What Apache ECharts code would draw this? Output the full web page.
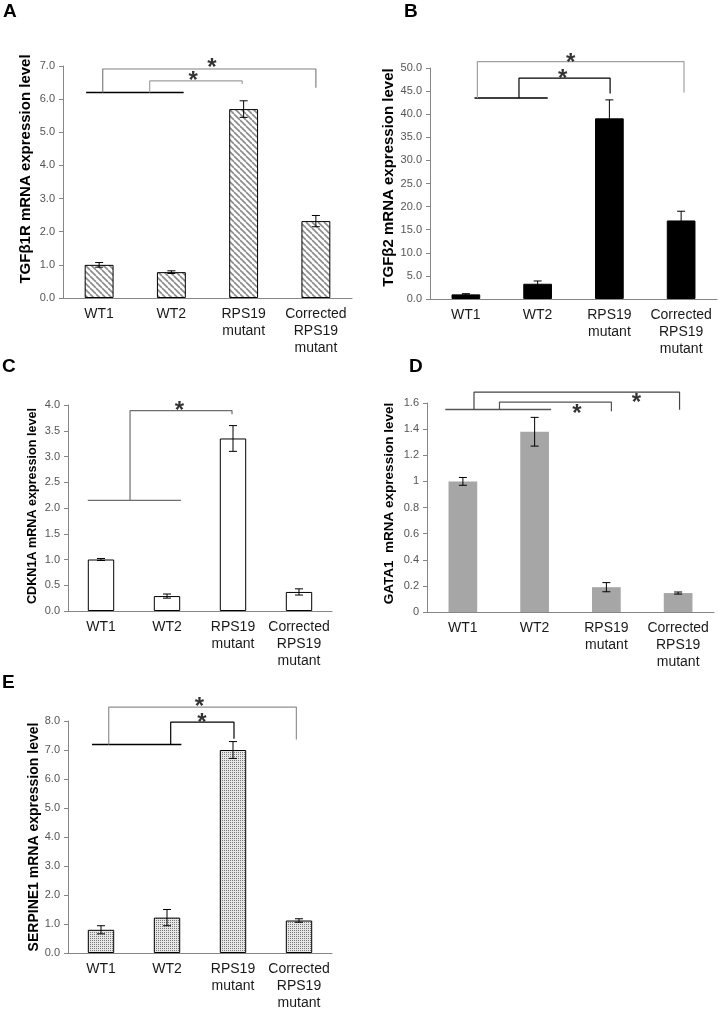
<!DOCTYPE html>
<html><head><meta charset="utf-8">
<script src="https://cdn.jsdelivr.net/npm/echarts@6/dist/echarts.min.js"></script>
<style>html,body{margin:0;padding:0;background:#fff}#c{width:719px;height:1012px}</style>
</head><body><div id="c"></div>
<script>
// ---------- data ----------
const categories = ['WT1', 'WT2', 'RPS19\nmutant', 'Corrected\nRPS19\nmutant'];

const tgfb1rValues = [1.00, 0.78, 5.70, 2.32];
const tgfb1rErrors = [0.07, 0.04, 0.25, 0.17];
const tgfb2Values = [1.0, 3.3, 39.1, 17.0];
const tgfb2Errors = [0.15, 0.6, 4.0, 2.0];
const cdkn1aValues = [1.00, 0.29, 3.35, 0.37];
const cdkn1aErrors = [0.02, 0.04, 0.25, 0.06];
const gata1Values = [1.00, 1.38, 0.19, 0.145];
const gata1Errors = [0.03, 0.11, 0.035, 0.008];
const serpine1Values = [0.80, 1.22, 7.00, 1.12];
const serpine1Errors = [0.14, 0.28, 0.29, 0.06];

const yAxisA = {min: 0, max: 7, interval: 1};
const yAxisB = {min: 0, max: 50, interval: 5};
const yAxisC = {min: 0, max: 4, interval: 0.5};
const yAxisD = {min: 0, max: 1.6, interval: 0.2};
const yAxisE = {min: 0, max: 8, interval: 1};

const yNames = ['TGFβ1R mRNA expression level', 'TGFβ2 mRNA expression level',
  'CDKN1A mRNA expression level', 'GATA1  mRNA expression level', 'SERPINE1 mRNA expression level'];
const panelLetters = ['A', 'B', 'C', 'D', 'E'];

// significance brackets (x in category units, y in data units)
const bracketsA = [[[-0.18, 6.2], [1.17, 6.2]],
  [[0.05, 6.2], [0.05, 6.91], [3.0, 6.91], [3.0, 6.34]],
  [[0.70, 6.2], [0.70, 6.55], [1.98, 6.55], [1.98, 6.46]]];
const starsA = [[1.56, 7.09], [1.30, 6.70]];
const bracketsB = [[[0.12, 43.5], [1.14, 43.5]],
  [[0.16, 43.5], [0.16, 51.4], [3.04, 51.4], [3.04, 44.7]],
  [[0.74, 43.5], [0.74, 47.8], [2.01, 47.8], [2.01, 44.5]]];
const starsB = [[1.46, 52.0], [1.35, 48.7]];
const bracketsC = [[[-0.20, 2.15], [1.21, 2.15]],
  [[0.44, 2.15], [0.44, 3.89], [1.985, 3.89], [1.985, 3.82]]];
const starsC = [[1.19, 3.98]];
const bracketsD = [[[-0.245, 1.551], [1.23, 1.551]],
  [[0.155, 1.551], [0.155, 1.683], [3.02, 1.683], [3.02, 1.549]],
  [[0.51, 1.551], [0.51, 1.607], [2.07, 1.607], [2.07, 1.536]]];
const starsD = [[2.42, 1.633], [1.59, 1.549]];
const bracketsE = [[[-0.136, 7.19], [1.218, 7.19]],
  [[0.117, 7.19], [0.117, 8.48], [2.96, 8.48], [2.96, 7.36]],
  [[1.056, 7.19], [1.056, 7.96], [2.015, 7.96], [2.015, 7.39]]];
const starsE = [[1.49, 8.65], [1.53, 8.08]];

// ---------- patterns ----------
function hatchPattern() {
  const s = 6, c = document.createElement('canvas');
  c.width = s; c.height = s;
  const g = c.getContext('2d');
  g.fillStyle = '#fff'; g.fillRect(0, 0, s, s);
  g.strokeStyle = '#8a8a8a'; g.lineWidth = 1.6;
  for (const k of [-s, 0, s]) { g.beginPath(); g.moveTo(k, 0); g.lineTo(k + s, s); g.stroke(); }
  return {image: c, repeat: 'repeat'};
}
function dotPattern() {
  const c = document.createElement('canvas');
  c.width = 2; c.height = 2;
  const g = c.getContext('2d');
  g.fillStyle = '#e6e6e6'; g.fillRect(0, 0, 2, 2);
  g.fillStyle = '#7a7a7a'; g.fillRect(0, 0, 1, 1);
  return {image: c, repeat: 'repeat'};
}

// ---------- layout ----------
const FONT = '"Liberation Sans", Arial, sans-serif';
const grids = [
  {left: 63, right: 367, top: 66, bottom: 714},
  {left: 430, right: 2, top: 68, bottom: 713},
  {left: 68, right: 387, top: 405, bottom: 401},
  {left: 427, right: 5, top: 403, bottom: 400},
  {left: 68, right: 387, top: 721, bottom: 59}
];
const nameGaps = [30, 30, 29, 31, 25];
const nameSizes = [15, 15, 12.6, 13.5, 14];
const nameShift = [26, 12, 4, 8, 0];
const yCfg = [yAxisA, yAxisB, yAxisC, yAxisD, yAxisE];
const yFmt = [v => v.toFixed(1), v => v.toFixed(1), v => v.toFixed(1), v => String(+v.toFixed(1)), v => v.toFixed(1)];
const values = [tgfb1rValues, tgfb2Values, cdkn1aValues, gata1Values, serpine1Values];
const errors = [tgfb1rErrors, tgfb2Errors, cdkn1aErrors, gata1Errors, serpine1Errors];
const brackets = [bracketsA, bracketsB, bracketsC, bracketsD, bracketsE];
const stars = [starsA, starsB, starsC, starsD, starsE];
const bracketColors = [
  ['#000', '#808080', '#a0a0a0'],
  ['#000', '#a0a0a0', '#000'],
  ['#6e6e6e', '#6e6e6e'],
  ['#555', '#444', '#555'],
  ['#000', '#909090', '#000']
];
const barStyles = [
  {color: hatchPattern(), borderColor: '#000', borderWidth: 1},
  {color: '#000', borderColor: '#000', borderWidth: 1},
  {color: '#fff', borderColor: '#000', borderWidth: 1},
  {color: '#a6a6a6', borderWidth: 0},
  {color: dotPattern(), borderColor: '#000', borderWidth: 1}
];
const letterPos = [[3, 2], [404, 2], [2, 357], [409, 357], [2, 673]];

const axisGray = '#868686';
const xAxes = [], yAxes = [], series = [];
for (let i = 0; i < 5; i++) {
  xAxes.push({
    type: 'category', gridIndex: i, data: categories,
    axisLine: {onZero: false, lineStyle: {color: axisGray}}, axisTick: {lineStyle: {color: axisGray}, length: 5},
    axisLabel: {color: '#1a1a1a', fontSize: 14, fontFamily: FONT, lineHeight: 17, margin: 8, interval: 0}
  });
  yAxes.push({
    type: 'value', gridIndex: i, min: yCfg[i].min, max: yCfg[i].max, interval: yCfg[i].interval,
    splitLine: {show: false},
    axisLine: {show: true, onZero: false, lineStyle: {color: axisGray}}, axisTick: {show: true, length: 4, lineStyle: {color: axisGray}},
    axisLabel: {color: '#555', fontSize: 11, fontFamily: FONT, margin: 8, formatter: yFmt[i]},
    name: yNames[i], nameLocation: 'middle', nameGap: nameGaps[i],
    nameTextStyle: {color: '#000', fontWeight: 'bold', fontSize: nameSizes[i], fontFamily: FONT,
      padding: [0, 0, 0, nameShift[i]]}
  });
}
// hidden value x axes for annotations
for (let i = 0; i < 5; i++) {
  xAxes.push({type: 'value', gridIndex: i, min: -0.5, max: 3.5, show: false, axisLine: {onZero: false}});
}
for (let i = 0; i < 5; i++) {
  series.push({
    type: 'bar', xAxisIndex: i, yAxisIndex: i, data: values[i], barWidth: '40%',
    itemStyle: barStyles[i], silent: true
  });
  series.push({
    type: 'custom', xAxisIndex: i, yAxisIndex: i, z: 5,
    data: values[i].map((v, k) => [k, v, errors[i][k]]),
    renderItem: function (params, api) {
      const x = api.value(0), v = api.value(1), e = api.value(2);
      const t = api.coord([x, v + e]), b = api.coord([x, v - e]);
      const hw = 4, st = {stroke: '#000', lineWidth: 1};
      return {type: 'group', children: [
        {type: 'line', shape: {x1: t[0], y1: t[1], x2: b[0], y2: b[1]}, style: st},
        {type: 'line', shape: {x1: t[0] - hw, y1: t[1], x2: t[0] + hw, y2: t[1]}, style: st},
        {type: 'line', shape: {x1: b[0] - hw, y1: b[1], x2: b[0] + hw, y2: b[1]}, style: st}
      ]};
    }
  });
  brackets[i].forEach((pts, j) => {
    series.push({
      type: 'line', xAxisIndex: 5 + i, yAxisIndex: i, data: pts, symbol: 'none', clip: false,
      silent: true, lineStyle: {color: bracketColors[i][j], width: j === 0 && i !== 2 ? 1.5 : 1.2}, z: 6
    });
  });
  series.push({
    type: 'scatter', xAxisIndex: 5 + i, yAxisIndex: i, data: stars[i], symbolSize: 0, clip: false,
    silent: true, z: 7,
    label: {show: true, formatter: '*', position: 'inside', color: '#000', fontSize: 24,
      fontWeight: 'bold', fontFamily: FONT, offset: [0, 5]}
  });
}

const chart = echarts.init(document.getElementById('c'), null, {renderer: 'canvas'});
chart.setOption({
  animation: false,
  backgroundColor: '#fff',
  title: panelLetters.map((t, i) => ({
    text: t, left: letterPos[i][0], top: letterPos[i][1], padding: 0,
    textStyle: {fontSize: 19, fontWeight: 'bold', color: '#000', fontFamily: FONT}
  })),
  grid: grids,
  xAxis: xAxes,
  yAxis: yAxes,
  series: series
});
</script></body></html>
